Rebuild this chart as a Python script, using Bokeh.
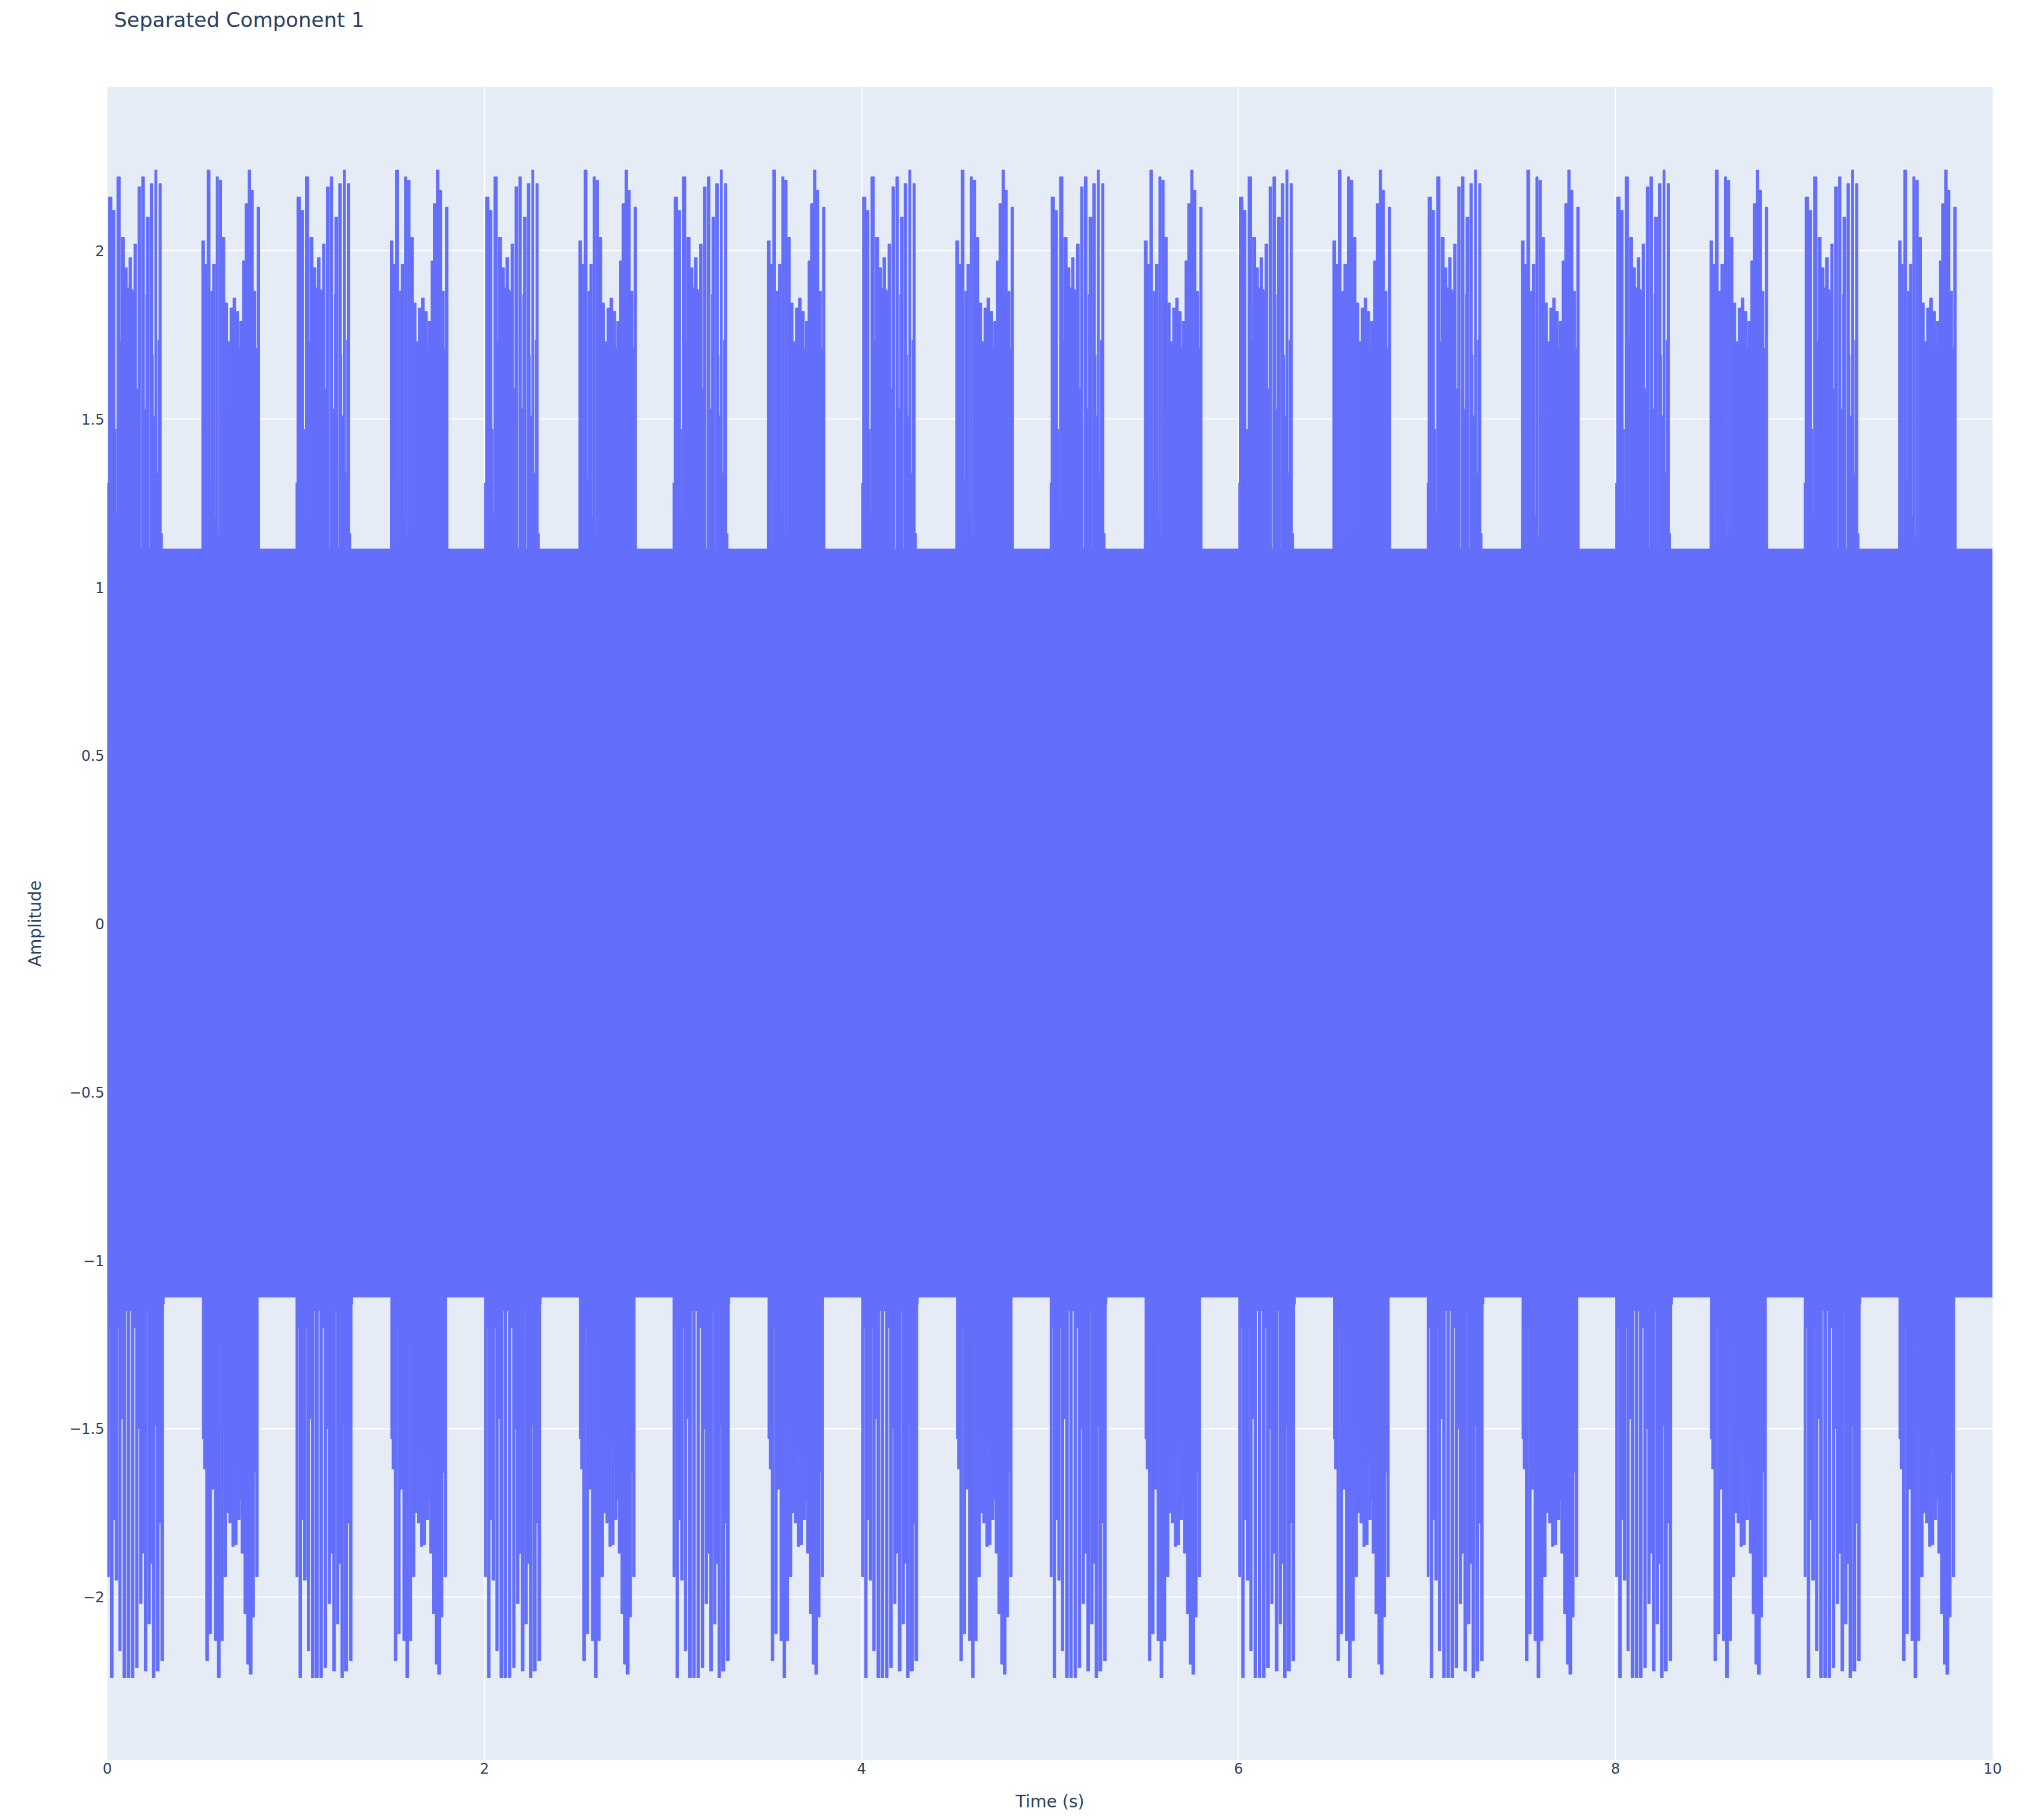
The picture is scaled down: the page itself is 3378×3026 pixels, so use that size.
from bokeh.plotting import figure
from bokeh.models import Range1d, FixedTicker, Title
from bokeh.embed import file_html
from bokeh.resources import INLINE

# ---------------- texts / ticks ----------------
TITLE = "Separated Component 1"
X_LABEL = "Time (s)"
Y_LABEL = "Amplitude"
X_TICKS = [0, 2, 4, 6, 8, 10]
X_TICK_LABELS = ["0", "2", "4", "6", "8", "10"]
Y_TICKS = [-2, -1.5, -1, -0.5, 0, 0.5, 1, 1.5, 2]
Y_TICK_LABELS = ["\u22122", "\u22121.5", "\u22121", "\u22120.5", "0", "0.5", "1", "1.5", "2"]

# ---------------- data ----------------
T_START = 0.0
T_END = 10.0
BASE_UPPER = 1.115     # steady oscillation envelope (top)
BASE_LOWER = -1.11     # steady oscillation envelope (bottom)

BURST_STARTS = [0.0, 0.5, 1.0, 1.5, 2.0, 2.5, 3.0, 3.5, 4.0, 4.5,
                5.0, 5.5, 6.0, 6.5, 7.0, 7.5, 8.0, 8.5, 9.0, 9.5]
BURST_PATTERN = ["A", "B", "A", "B", "A", "B", "A", "B", "A", "B",
                 "A", "B", "A", "B", "A", "B", "A", "B", "A", "B"]

# pattern A: peak envelope (offset from burst start, value)
A_TOP_T = [0.0000, 0.0053, 0.0245, 0.0404, 0.0468, 0.0500, 0.0691, 0.0734, 0.0915, 0.1064,
           0.1138, 0.1287, 0.1351, 0.1404, 0.1553, 0.1617, 0.1766, 0.1819, 0.1968, 0.2031,
           0.2063, 0.2223, 0.2265, 0.2414, 0.2446, 0.2510, 0.2627, 0.2680, 0.2733, 0.2861]
A_TOP_V = [1.31, 2.16, 2.12, 1.47, 1.22, 2.22, 1.73, 2.04, 1.95, 1.89,
           1.98, 1.885, 1.88, 2.02, 1.59, 2.19, 1.08, 2.22, 1.53, 1.87,
           2.10, 1.06, 2.20, 1.69, 1.51, 2.24, 1.34, 1.735, 2.20, 1.16]
A_TOP_END = 0.2925

A_BOT_T = [0.0000, 0.0117, 0.0160, 0.0308, 0.0404, 0.0553, 0.0596, 0.0734, 0.0819, 0.0979,
           0.1042, 0.1191, 0.1266, 0.1415, 0.1489, 0.1638, 0.1702, 0.1840, 0.1946, 0.2106,
           0.2148, 0.2287, 0.2382, 0.2531, 0.2574, 0.2755, 0.2829, 0.2989]
A_BOT_V = [-1.94, -1.20, -2.24, -1.77, -1.95, -1.20, -2.16, -1.47, -2.24, -1.15,
           -2.24, -1.15, -2.24, -1.20, -2.21, -1.50, -2.02, -1.87, -2.22, -1.15,
           -2.08, -1.90, -2.24, -1.49, -2.22, -1.78, -2.19, -1.13]
A_BOT_END = 0.302

# pattern B
B_TOP_T = [0.0000, 0.0160, 0.0266, 0.0287, 0.0447, 0.0479, 0.0585, 0.0734, 0.0766, 0.0893,
           0.0925, 0.1064, 0.1085, 0.1234, 0.1244, 0.1383, 0.1500, 0.1659, 0.1808, 0.1968,
           0.2010, 0.2159, 0.2297, 0.2457, 0.2595, 0.2744, 0.2882, 0.2936]
B_TOP_V = [2.03, 1.96, 1.13, 2.24, 1.32, 1.88, 1.96, 1.21, 2.22, 1.15,
           2.21, 1.165, 2.04, 1.52, 1.845, 1.73, 1.83, 1.86, 1.82, 1.71,
           1.79, 1.97, 2.14, 2.24, 2.18, 1.88, 1.71, 2.13]
B_TOP_END = 0.3074

B_BOT_T = [0.0032, 0.0096, 0.0213, 0.0362, 0.0394, 0.0532, 0.0670, 0.0819, 0.0830, 0.0989,
           0.1010, 0.1149, 0.1170, 0.1319, 0.1436, 0.1574, 0.1595, 0.1734, 0.1755, 0.1883,
           0.1904, 0.2042, 0.2085, 0.2234, 0.2382, 0.2521, 0.2680, 0.2808, 0.2861]
B_BOT_V = [-1.53, -1.62, -2.19, -1.20, -2.11, -1.68, -2.13, -1.25, -2.24, -1.25,
           -2.13, -1.50, -1.94, -1.75, -1.78, -1.60, -1.85, -1.55, -1.845, -1.60,
           -1.77, -1.71, -1.87, -2.05, -2.20, -2.23, -2.06, -1.63, -1.94]
B_BOT_END = 0.2999

PATTERNS = {
    "A": [(A_TOP_T, A_TOP_V, A_TOP_END), (A_BOT_T, A_BOT_V, A_BOT_END)],
    "B": [(B_TOP_T, B_TOP_V, B_TOP_END), (B_BOT_T, B_BOT_V, B_BOT_END)],
}

# ---------------- styling ----------------
LINE_COLOR = "#636efa"
BG_COLOR = "#E5ECF6"
TEXT_COLOR = "#2a3f5f"
FONT = "DejaVu Sans"
FRAME_W = 3134
FRAME_H = 2782


def step_outline(start, ts, vs, end):
    """Closed outline of a step envelope (base 0) for one burst."""
    xs = [start + ts[0]]
    ys = [0.0]
    for i, v in enumerate(vs):
        x0 = start + ts[i]
        x1 = start + (ts[i + 1] if i + 1 < len(ts) else end)
        xs += [x0, x1]
        ys += [v, v]
    xs.append(start + end)
    ys.append(0.0)
    return xs, ys


p = figure(
    frame_width=FRAME_W, frame_height=FRAME_H,
    x_range=Range1d(0, 10), y_range=Range1d(-2.485, 2.487),
    output_backend="svg", toolbar_location=None,
    min_border_left=178, min_border_right=50,
    min_border_top=144, min_border_bottom=96,
    background_fill_color=BG_COLOR, border_fill_color="white",
)
p.outline_line_color = None

# spacer (nearest the frame) then the visible title further up
p.add_layout(Title(text=" ", text_font_size="10px", standoff=74), "above")
p.add_layout(Title(text=TITLE, text_font=FONT, text_font_size="34px",
                   text_font_style="normal", text_color=TEXT_COLOR,
                   align="left", offset=11, standoff=10), "above")

for ax in (p.xaxis[0], p.yaxis[0]):
    ax.axis_line_color = None
    ax.major_tick_line_color = None
    ax.minor_tick_line_color = None
    ax.major_tick_out = 0
    ax.major_tick_in = 0
    ax.major_label_text_font = FONT
    ax.major_label_text_font_size = "24px"
    ax.major_label_text_color = TEXT_COLOR
    ax.axis_label_text_font = FONT
    ax.axis_label_text_font_size = "28px"
    ax.axis_label_text_font_style = "normal"
    ax.axis_label_text_color = TEXT_COLOR

p.xaxis.axis_label = X_LABEL
p.yaxis.axis_label = Y_LABEL
p.xaxis.ticker = FixedTicker(ticks=X_TICKS)
p.yaxis.ticker = FixedTicker(ticks=Y_TICKS)
p.xaxis.major_label_overrides = {t: l for t, l in zip(X_TICKS, X_TICK_LABELS)}
p.yaxis.major_label_overrides = {t: l for t, l in zip(Y_TICKS, Y_TICK_LABELS)}
p.xaxis.major_label_standoff = 4
p.yaxis.major_label_standoff = 5
p.xaxis.axis_label_standoff = 27
p.yaxis.axis_label_standoff = 37

p.xgrid.ticker = FixedTicker(ticks=X_TICKS)
p.ygrid.ticker = FixedTicker(ticks=Y_TICKS)
for g in (p.xgrid[0], p.ygrid[0]):
    g.grid_line_color = "white"
    g.grid_line_width = 2

# steady band
p.varea(x=[T_START, T_END], y1=[BASE_LOWER, BASE_LOWER], y2=[BASE_UPPER, BASE_UPPER],
        fill_color=LINE_COLOR)

# bursts
all_xs, all_ys = [], []
for s, pat in zip(BURST_STARTS, BURST_PATTERN):
    for ts, vs, end in PATTERNS[pat]:
        xs, ys = step_outline(s, ts, vs, end)
        all_xs.append(xs)
        all_ys.append(ys)
p.patches(xs=all_xs, ys=all_ys, fill_color=LINE_COLOR, line_color=LINE_COLOR, line_width=1)

open("out.html", "w").write(file_html(p, INLINE))
